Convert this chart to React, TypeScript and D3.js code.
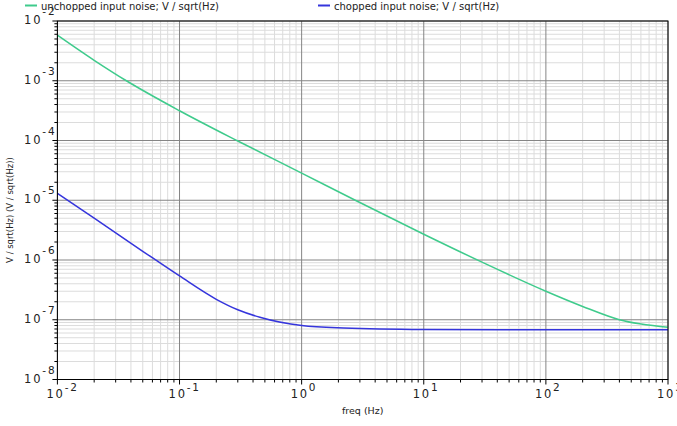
import React from "react";
import * as d3 from "d3";

// unchopped input noise (green)
const freqUnchopped = [0.01, 0.02, 0.037, 0.1, 0.3, 1, 2.75, 10, 30, 100, 200, 400, 1000];
const unchopped = [5.8e-3, 2.2e-3, 9.9e-4, 3.15e-4, 9.8e-5, 2.85e-5, 1.0e-5, 2.7e-6, 9.2e-7, 3.0e-7, 1.67e-7, 1.0e-7, 7.5e-8];

// chopped input noise (blue)
const freqChopped = [0.01, 0.02, 0.05, 0.1, 0.2, 0.3, 0.455, 1, 2.2, 10, 100, 1000];
const chopped = [1.3e-5, 5.0e-6, 1.4e-6, 5.4e-7, 2.2e-7, 1.47e-7, 1.1e-7, 8.0e-8, 7.3e-8, 6.9e-8, 6.8e-8, 6.8e-8];

const xDecades = [-2, -1, 0, 1, 2, 3];
const yDecades = [-8, -7, -6, -5, -4, -3, -2];

const seriesNames = ["unchopped input noise; V / sqrt(Hz)", "chopped input noise; V / sqrt(Hz)"];
const seriesColors = ["#3fcb8c", "#3535dc"];

const font = "DejaVu Sans, Verdana, sans-serif";

export default function App() {
  const width = 677;
  const height = 426;
  const margin = { top: 21, right: 9, bottom: 46.5, left: 57.4 };
  const x0 = margin.left;
  const x1 = width - margin.right;
  const y0 = height - margin.bottom;
  const y1 = margin.top;

  const x = d3.scaleLog().domain([1e-2, 1e3]).range([x0, x1]);
  const y = d3.scaleLog().domain([1e-8, 1e-2]).range([y0, y1]);

  // minor values 2..9 within each decade
  const minorX: number[] = [];
  xDecades.slice(0, -1).forEach(d => {
    for (let k = 2; k <= 9; k++) minorX.push(k * Math.pow(10, d));
  });
  const minorY: number[] = [];
  yDecades.slice(0, -1).forEach(d => {
    for (let k = 2; k <= 9; k++) minorY.push(k * Math.pow(10, d));
  });

  const line = d3
    .line<[number, number]>()
    .x(d => x(d[0]))
    .y(d => y(d[1]))
    .curve(d3.curveMonotoneX);

  const green = line(freqUnchopped.map((f, i) => [f, unchopped[i]]));
  const blue = line(freqChopped.map((f, i) => [f, chopped[i]]));

  return (
    <svg
      width={width}
      height={height}
      style={{ position: "absolute", left: 0, top: 0, background: "#fff" }}
    >
      {/* minor grid */}
      {minorX.map(v => (
        <line key={"mx" + v} x1={x(v)} x2={x(v)} y1={y1} y2={y0} stroke="#dcdcdc" strokeWidth={1} />
      ))}
      {minorY.map(v => (
        <line key={"my" + v} x1={x0} x2={x1} y1={y(v)} y2={y(v)} stroke="#dcdcdc" strokeWidth={1} />
      ))}
      {/* major grid */}
      {xDecades.map(d => (
        <line key={"Mx" + d} x1={x(Math.pow(10, d))} x2={x(Math.pow(10, d))} y1={y1} y2={y0} stroke="#858585" strokeWidth={1} />
      ))}
      {yDecades.map(d => (
        <line key={"My" + d} x1={x0} x2={x1} y1={y(Math.pow(10, d))} y2={y(Math.pow(10, d))} stroke="#858585" strokeWidth={1} />
      ))}

      {/* curves */}
      <path d={green || ""} fill="none" stroke={seriesColors[0]} strokeWidth={1.5} />
      <path d={blue || ""} fill="none" stroke={seriesColors[1]} strokeWidth={1.5} />

      {/* frame */}
      <rect x={x0} y={y1} width={x1 - x0} height={y0 - y1} fill="none" stroke="#000" strokeWidth={1} />

      {/* x ticks */}
      {minorX.map(v => (
        <line key={"tx" + v} x1={x(v)} x2={x(v)} y1={y0} y2={y0 + 3} stroke="#000" />
      ))}
      {xDecades.map(d => (
        <g key={"lx" + d}>
          <line x1={x(Math.pow(10, d))} x2={x(Math.pow(10, d))} y1={y0} y2={y0 + 5} stroke="#000" />
          <text x={x(Math.pow(10, d)) - 11} y={y0 + 18} fontFamily={font} fontSize={11.5} letterSpacing={1.8} fill="#222">
            <tspan>10</tspan>
            <tspan dy={-7} fontSize={10.5}>{d}</tspan>
          </text>
        </g>
      ))}

      {/* y ticks */}
      {minorY.map(v => (
        <line key={"ty" + v} x1={x0 - 3} x2={x0} y1={y(v)} y2={y(v)} stroke="#000" />
      ))}
      {yDecades.map(d => (
        <g key={"ly" + d}>
          <line x1={x0 - 5} x2={x0} y1={y(Math.pow(10, d))} y2={y(Math.pow(10, d))} stroke="#000" />
          <text x={x0 - 1} y={y(Math.pow(10, d)) + 3} textAnchor="end" fontFamily={font} fontSize={11.5} letterSpacing={1.8} fill="#222">
            <tspan>10</tspan>
            <tspan dy={-9} fontSize={10.5}>{d}</tspan>
          </text>
        </g>
      ))}

      {/* axis titles */}
      <text x={(x0 + x1) / 2} y={414} textAnchor="middle" fontFamily={font} fontSize={9.5} fill="#222">
        freq (Hz)
      </text>
      <text
        transform={`translate(13, ${210}) rotate(-90)`}
        textAnchor="middle"
        fontFamily={font}
        fontSize={8.5}
        fill="#222"
      >
        V / sqrt(Hz) (V / sqrt(Hz))
      </text>

      {/* legend */}
      {seriesNames.map((name, i) => {
        const lx = i === 0 ? 25 : 318;
        return (
          <g key={name}>
            <line x1={lx} x2={lx + 12} y1={5.5} y2={5.5} stroke={seriesColors[i]} strokeWidth={2} />
            <text x={lx + 16} y={9.5} fontFamily={font} fontSize={10} fill="#222">
              {name}
            </text>
          </g>
        );
      })}
    </svg>
  );
}
